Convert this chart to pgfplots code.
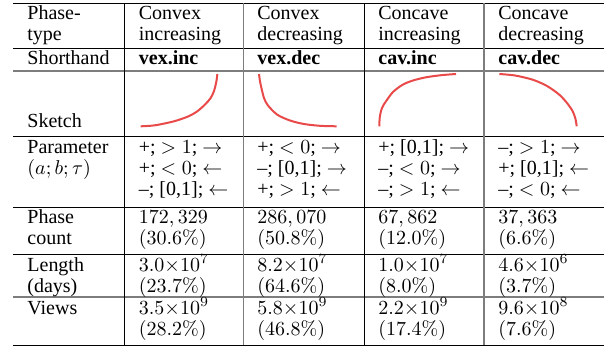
\documentclass[border=0pt]{standalone}
\usepackage[no-math]{fontspec}
\setmainfont{Liberation Serif}
\usepackage{pgfplots}
\pgfplotsset{compat=1.18}

\definecolor{sketchred}{RGB}{232,74,74}
\definecolor{rulegray}{RGB}{125,125,125}

% one text line of a cell, base line at (x,y) in pixel units
\newcommand{\cell}[3]{\node[anchor=base west,inner sep=0pt] at (axis cs:#1,#2) {#3};}

\begin{document}
\begin{tikzpicture}
\begin{axis}[
    width=305.5pt, height=174pt, scale only axis,
    xmin=0, xmax=611, ymin=0, ymax=348,
    y dir=reverse,
    hide axis, clip=false,
]
\path (axis cs:0,0) rectangle (axis cs:611,348);

% sketches
\addplot[sketchred, line width=1pt, smooth] coordinates {
  (140.7,126.3) (155,125.3) (174,121.3) (188,116.5) (197.3,111.3)
  (205,104.5) (210.7,98) (214,91) (215.7,84.7) (216.8,79) (217.3,74)
};
\addplot[sketchred, line width=1pt, smooth] coordinates {
  (259,74) (259.8,80) (261.2,87) (264,98) (268,105.5) (277.3,114.7)
  (290,120.5) (304,124) (320,125.8) (336.7,126.3)
};
\addplot[sketchred, line width=1pt, smooth] coordinates {
  (379.3,126.3) (379.8,117) (382,108) (386,101.3) (393,92) (402.7,84.7)
  (413,80.5) (426,77.3) (441,75.2) (456,74)
};
\addplot[sketchred, line width=1pt, smooth] coordinates {
  (499.3,74) (515,75.5) (532.7,79.7) (547,86) (559.3,94.7) (567,103)
  (572.7,111.3) (575.5,119) (576.7,126.3)
};

% rules
\draw[line width=0.5pt] (axis cs:13,3) -- (axis cs:604,3);
\draw[line width=0.5pt] (axis cs:13,48) -- (axis cs:604,48);
\draw[rulegray, line width=0.9pt] (axis cs:13,71) -- (axis cs:604,71);
\draw[line width=0.5pt] (axis cs:13,136) -- (axis cs:604,136);
\draw[line width=0.5pt] (axis cs:13,207) -- (axis cs:604,207);
\draw[line width=0.5pt] (axis cs:13,254.5) -- (axis cs:604,254.5);
\draw[rulegray, line width=0.9pt] (axis cs:13,297) -- (axis cs:604,297);
\draw[line width=0.5pt] (axis cs:13,345) -- (axis cs:604,345);
\draw[line width=0.5pt] (axis cs:124.5,3) -- (axis cs:124.5,345);
\draw[rulegray, line width=0.9pt] (axis cs:243.5,3) -- (axis cs:243.5,345);
\draw[line width=0.5pt] (axis cs:364,3) -- (axis cs:364,345);
\draw[rulegray, line width=0.9pt] (axis cs:484,3) -- (axis cs:484,345);

% header
\cell{27}{19.5}{Phase-}
\cell{27}{40.5}{type}
\cell{138.5}{19.5}{Convex}
\cell{138.5}{40.5}{increasing}
\cell{257}{19.5}{Convex}
\cell{257}{40.5}{decreasing}
\cell{378}{19.5}{Concave}
\cell{378}{40.5}{increasing}
\cell{498}{19.5}{Concave}
\cell{498}{40.5}{decreasing}

\cell{27}{64.5}{Shorthand}
\cell{138.5}{64.5}{\textbf{vex.inc}}
\cell{257}{64.5}{\textbf{vex.dec}}
\cell{378}{64.5}{\textbf{cav.inc}}
\cell{498}{64.5}{\textbf{cav.dec}}

\cell{27}{127.7}{Sketch}

% parameters
\cell{27}{153}{Parameter}
\cell{27}{174}{$(a;b;\tau)$}
\cell{138.5}{153}{+; $>1$; $\rightarrow$}
\cell{138.5}{174}{+; $<0$; $\leftarrow$}
\cell{138.5}{195}{--; [0,1]; $\leftarrow$}
\cell{257}{153}{+; $<0$; $\rightarrow$}
\cell{257}{174}{--; [0,1]; $\rightarrow$}
\cell{257}{195}{+; $>1$; $\leftarrow$}
\cell{378}{153}{+; [0,1]; $\rightarrow$}
\cell{378}{174}{--; $<0$; $\rightarrow$}
\cell{378}{195}{--; $>1$; $\leftarrow$}
\cell{498}{153}{--; $>1$; $\rightarrow$}
\cell{498}{174}{+; [0,1]; $\leftarrow$}
\cell{498}{195}{--; $<0$; $\leftarrow$}

% phase count
\cell{27}{223.5}{Phase}
\cell{27}{244.5}{count}
\cell{138.5}{223.5}{$172,329$}
\cell{138.5}{244.5}{$(30.6\%)$}
\cell{257}{223.5}{$286,070$}
\cell{257}{244.5}{$(50.8\%)$}
\cell{378}{223.5}{$67,862$}
\cell{378}{244.5}{$(12.0\%)$}
\cell{498}{223.5}{$37,363$}
\cell{498}{244.5}{$(6.6\%)$}

% length
\cell{27}{271}{Length}
\cell{27}{292}{(days)}
\cell{138.5}{271}{$3.0{\times}10^7$}
\cell{138.5}{292}{$(23.7\%)$}
\cell{257}{271}{$8.2{\times}10^7$}
\cell{257}{292}{$(64.6\%)$}
\cell{378}{271}{$1.0{\times}10^7$}
\cell{378}{292}{$(8.0\%)$}
\cell{498}{271}{$4.6{\times}10^6$}
\cell{498}{292}{$(3.7\%)$}

% views
\cell{27}{314}{Views}
\cell{138.5}{314}{$3.5{\times}10^9$}
\cell{138.5}{335}{$(28.2\%)$}
\cell{257}{314}{$5.8{\times}10^9$}
\cell{257}{335}{$(46.8\%)$}
\cell{378}{314}{$2.2{\times}10^9$}
\cell{378}{335}{$(17.4\%)$}
\cell{498}{314}{$9.6{\times}10^8$}
\cell{498}{335}{$(7.6\%)$}
\end{axis}
\end{tikzpicture}
\end{document}
